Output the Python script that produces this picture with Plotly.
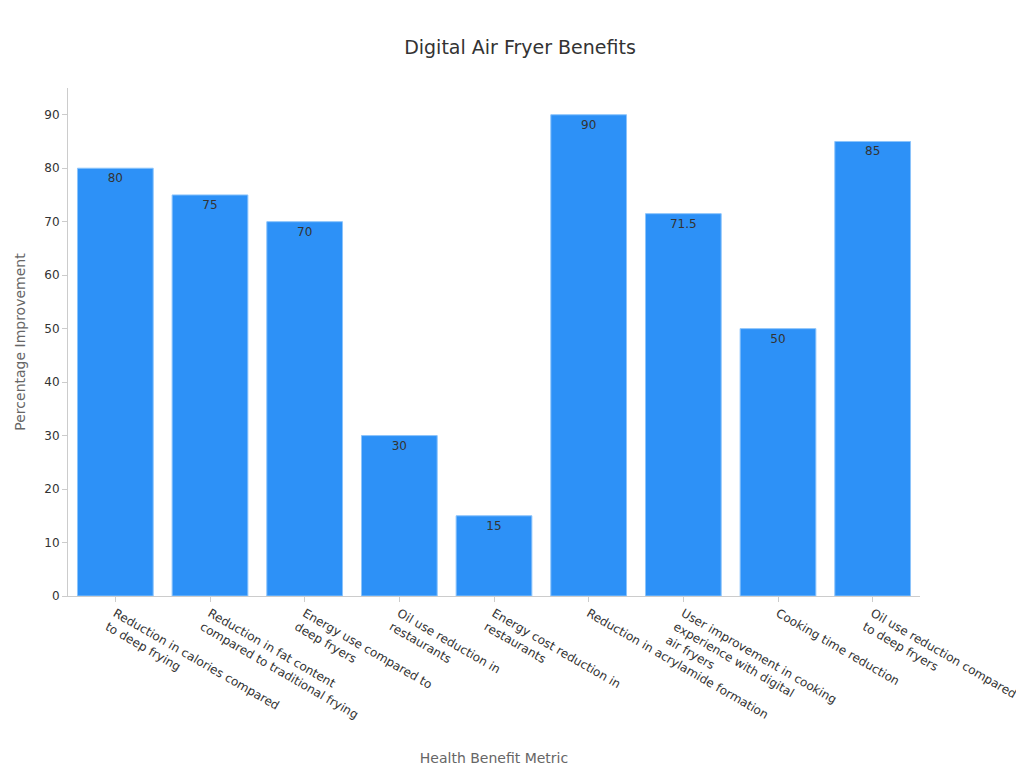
import plotly.graph_objects as go

categories = [
    "Reduction in calories compared<br>to deep frying",
    "Reduction in fat content<br>compared to traditional frying",
    "Energy use compared to<br>deep fryers",
    "Oil use reduction in<br>restaurants",
    "Energy cost reduction in<br>restaurants",
    "Reduction in acrylamide formation",
    "User improvement in cooking<br>experience with digital<br>air fryers",
    "Cooking time reduction",
    "Oil use reduction compared<br>to deep fryers",
]
values = [80, 75, 70, 30, 15, 90, 71.5, 50, 85]

fig = go.Figure(go.Bar(
    x=categories,
    y=values,
    text=[str(v) for v in values],
    textposition="inside",
    insidetextanchor="end",
    textfont=dict(color="#333333", size=12),
    marker=dict(color="#2d91f7", line=dict(color="#8cc4fb", width=1)),
))

fig.update_layout(
    width=1024, height=768,
    paper_bgcolor="white", plot_bgcolor="white",
    font=dict(family="DejaVu Sans", color="#333333"),
    title=dict(text="Digital Air Fryer Benefits", x=0.5, y=0.957,
               font=dict(size=19, color="#333333")),
    margin=dict(l=60, r=112, t=80, b=175),
    bargap=0.2,
    showlegend=False,
)
fig.update_xaxes(
    title=dict(text="Health Benefit Metric", font=dict(size=14, color="#666666"), standoff=20),
    tickangle=30, tickfont=dict(size=12, color="#333333"),
    showline=True, linecolor="#cccccc", ticks="outside", tickcolor="#cccccc",
)
fig.update_yaxes(
    title=dict(text="Percentage Improvement", font=dict(size=14, color="#666666")),
    range=[0, 95], dtick=10, showgrid=False,
    tickfont=dict(size=12, color="#333333"),
    showline=True, linecolor="#cccccc", ticks="outside", tickcolor="#cccccc",
    zeroline=False,
)

fig.write_html("out.html")
